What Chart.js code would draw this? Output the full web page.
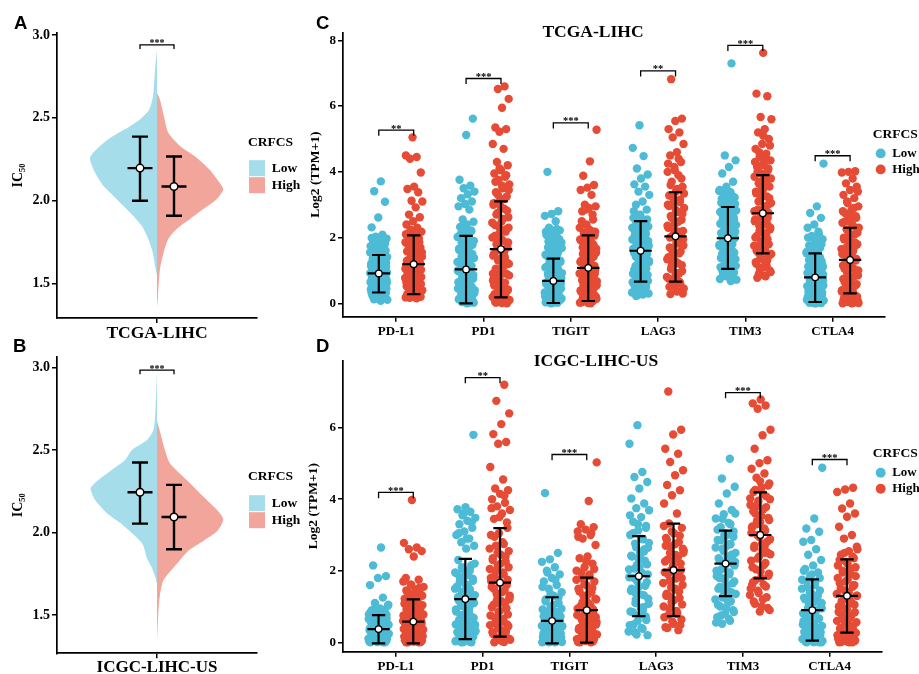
<!DOCTYPE html>
<html><head><meta charset="utf-8">
<script src="https://cdn.jsdelivr.net/npm/chart.js"></script>
<style>
html,body{margin:0;padding:0;background:#fff;width:919px;height:674px;overflow:hidden;}
canvas{position:absolute;}
.lbl{position:absolute;font:bold 18.5px "Liberation Sans",Arial,sans-serif;color:#000;z-index:5;line-height:normal;}
</style></head><body>
<canvas id="cA" width="300" height="345" style="left:0;top:0"></canvas>
<canvas id="cB" width="300" height="345" style="left:0;top:330px"></canvas>
<canvas id="cC" width="652" height="345" style="left:267px;top:0"></canvas>
<canvas id="cD" width="646" height="345" style="left:273px;top:330px"></canvas>
<div class="lbl" style="left:14px;top:12px">A</div>
<div class="lbl" style="left:13px;top:335px">B</div>
<div class="lbl" style="left:316px;top:12px">C</div>
<div class="lbl" style="left:316px;top:335px">D</div>
<script>
// ---------------- categories, labels, ticks ----------------
const genes = ['PD-L1', 'PD1', 'TIGIT', 'LAG3', 'TIM3', 'CTLA4'];
const groupLabels = ['Low', 'High'];
const legendTitle = 'CRFCS';
const icTicks = [1.5, 2.0, 2.5, 3.0];
const tcgaExprTicks = [0, 2, 4, 6, 8];
const icgcExprTicks = [0, 2, 4, 6];

// ---------------- panel A / B : violin outlines (IC50 level, half density width) ----------------
const aLowY  = [2.91,2.81,2.73,2.63,2.55,2.50,2.45,2.39,2.33,2.26,2.17,2.09,2.01,1.93,1.85,1.77,1.69,1.60,1.55];
const aLowW  = [0,0.017,0.027,0.04,0.077,0.153,0.27,0.44,0.57,0.67,0.62,0.537,0.403,0.27,0.153,0.087,0.043,0.017,0];
const aHighY = [2.65,2.61,2.50,2.41,2.33,2.26,2.19,2.12,2.07,2.01,1.95,1.89,1.83,1.77,1.69,1.60,1.50,1.40,1.36];
const aHighW = [0,0.03,0.073,0.113,0.23,0.397,0.523,0.613,0.663,0.597,0.463,0.33,0.197,0.113,0.067,0.033,0.017,0.007,0];
const bLowY  = [2.97,2.82,2.70,2.62,2.56,2.50,2.44,2.38,2.32,2.27,2.20,2.12,2.06,1.99,1.93,1.85,1.79,1.73,1.69];
const bLowW  = [0,0.01,0.02,0.037,0.103,0.253,0.32,0.453,0.587,0.663,0.62,0.503,0.37,0.237,0.143,0.103,0.053,0.017,0];
const bHighY = [2.68,2.62,2.50,2.42,2.32,2.22,2.14,2.08,2.01,1.95,1.89,1.81,1.71,1.61,1.51,1.41,1.35];
const bHighW = [0,0.027,0.08,0.13,0.297,0.463,0.597,0.663,0.603,0.463,0.313,0.197,0.063,0.027,0.013,0.005,0];
// mean and mean +/- SD  [Low, High]
const aMean = [2.197, 2.086], aLo = [2.00, 1.91], aHi = [2.387, 2.267];
const bMean = [2.245, 2.095], bLo = [2.055, 1.90], bHi = [2.425, 2.29];
const aSigY = 2.94, bSigY = 2.985, abSigLabel = '***';

// ---------------- panel C : TCGA-LIHC expression, Log2(TPM+1) ----------------
const tcgaLowPDL1 = [3.71,3.41,3.09,2.61,2.31,2.09,2.03,1.97,1.92,1.88,1.83,1.79,1.74,1.69,1.66,1.61,1.57,1.52,1.48,1.44,1.41,1.37,1.33,1.29,1.25,1.21,1.18,1.14,1.11,1.07,1.03,0.99,0.96,0.92,0.88,0.85,0.81,0.77,0.74,0.70,0.66,0.62,0.58,0.55,0.51,0.47,0.43,0.39,0.35,0.31,0.27,0.23,0.19,0.15,0.11,0.08,
  0.12,0.20,0.25,0.33,0.37,0.41,0.45,0.49,0.53,0.57,0.60,0.64,0.68,0.72,0.76,0.79,0.83,0.87,0.90,0.94,0.97,1.01,1.05,1.09,1.13,1.16,1.20,1.24,1.28,1.35,1.40,1.46,1.55,1.63,1.72,1.81,1.90,1.99,0.30,0.50,0.70,0.95,1.15];
const tcgaHighPDL1 = [5.05,4.50,4.45,4.40,3.98,3.55,3.48,3.38,3.12,3.10,2.92,2.70,2.62,2.50,2.40,2.30,2.24,2.18,2.12,2.05,1.98,1.92,1.86,1.80,1.74,1.69,1.63,1.58,1.52,1.47,1.42,1.37,1.32,1.27,1.22,1.17,1.12,1.07,1.02,0.97,0.92,0.87,0.82,0.77,0.72,0.67,0.62,0.57,0.52,0.47,0.42,0.38,0.34,0.30,0.26,0.22,0.18,0.15,
  0.17,0.20,0.24,0.28,0.32,0.36,0.40,0.45,0.50,0.55,0.60,0.65,0.70,0.75,0.80,0.85,0.90,0.95,1.00,1.05,1.10,1.15,1.20,1.25,1.30,1.35,1.45,1.55,1.65,1.75,1.85,1.95,2.10,2.20,0.33,0.58,0.88,1.18];
const tcgaLowPD1 = [5.62,5.12,3.76,3.58,3.50,3.40,3.32,3.20,3.10,3.02,2.95,2.85,2.55,2.48,2.40,2.32,2.22,2.12,2.02,1.94,1.86,1.78,1.70,1.62,1.54,1.46,1.38,1.30,1.22,1.14,1.06,0.98,0.90,0.82,0.75,0.68,0.61,0.54,0.47,0.40,0.34,0.28,0.22,0.17,0.12,0.08,0.05,0.02,0.00,0.10,0.30,0.60,1.00,
  0.01,0.04,0.07,0.11,0.15,0.20,0.25,0.31,0.37,0.43,0.50,0.57,0.64,0.71,0.78,0.86,0.94,1.02,1.10,1.18,1.26,1.34,1.42,1.50,1.58,1.66,1.74,1.82,1.90,2.00,2.10,2.20,2.30,0.45,0.85,1.30];
const tcgaHighPD1 = [6.60,6.52,6.22,5.95,5.35,5.30,5.22,4.85,4.70,4.30,4.20,4.05,3.95,3.85,3.75,3.62,3.50,3.38,3.25,3.12,3.00,2.88,2.75,2.62,2.50,2.38,2.25,2.12,2.00,1.90,1.80,1.70,1.60,1.50,1.40,1.30,1.20,1.10,1.00,0.90,0.80,0.70,0.60,0.50,0.42,0.35,0.28,0.22,0.16,0.10,0.05,0.02,0.00,0.30,0.65,1.15,1.75,2.30,
  0.01,0.04,0.08,0.13,0.19,0.25,0.32,0.39,0.46,0.55,0.63,0.72,0.85,0.95,1.05,1.25,1.35,1.45,1.55,1.65,1.85,1.95,2.05,2.18,2.32,2.45,2.57,2.70,2.82,2.95,3.05,3.18,3.30,3.45,3.58,3.70,3.90,4.10,0.90,1.40,2.00];
const tcgaLowTIGIT = [4.00,2.80,2.72,2.66,2.50,2.30,2.22,2.15,2.08,2.00,1.92,1.85,1.78,1.70,1.62,1.55,1.48,1.40,1.33,1.26,1.19,1.12,1.05,0.98,0.92,0.86,0.80,0.74,0.68,0.62,0.56,0.50,0.45,0.40,0.35,0.30,0.25,0.21,0.17,0.13,0.10,0.07,0.04,0.02,0.00,0.15,0.35,0.55,0.75,
  0.01,0.03,0.06,0.09,0.12,0.16,0.20,0.23,0.28,0.33,0.38,0.43,0.48,0.53,0.59,0.65,0.71,0.77,0.83,0.89,0.95,1.02,1.09,1.16,1.23,1.30,1.37,1.45,1.52,1.60,1.68,1.75,1.88,1.95,2.05,2.18,2.26,0.45,0.60,0.90];
const tcgaHighTIGIT = [5.28,4.32,3.88,3.60,3.52,3.45,3.30,3.00,2.95,2.90,2.80,2.55,2.40,2.30,2.22,2.14,2.06,1.98,1.90,1.82,1.74,1.66,1.58,1.50,1.42,1.34,1.26,1.18,1.10,1.02,0.95,0.88,0.81,0.74,0.67,0.60,0.54,0.48,0.42,0.36,0.30,0.25,0.20,0.16,0.12,0.08,0.05,0.02,0.00,0.40,0.90,
  0.01,0.03,0.06,0.10,0.14,0.18,0.22,0.27,0.33,0.39,0.45,0.51,0.57,0.63,0.70,0.77,0.84,0.91,0.98,1.06,1.14,1.22,1.30,1.38,1.46,1.54,1.62,1.70,1.78,1.86,1.94,2.02,2.10,2.18,2.26,2.50,2.70,2.85,0.55,1.25];
const tcgaLowLAG3 = [5.42,4.73,4.48,4.10,3.92,3.80,3.62,3.55,3.40,3.30,3.10,3.00,2.85,2.70,2.60,2.50,2.42,2.34,2.26,2.18,2.10,2.02,1.94,1.86,1.78,1.70,1.62,1.54,1.46,1.38,1.30,1.22,1.14,1.06,0.98,0.90,0.82,0.75,0.68,0.61,0.54,0.47,0.40,0.33,0.27,0.22,1.50,1.90,2.30,1.10,
  0.25,0.30,0.36,0.43,0.50,0.57,0.64,0.71,0.78,0.86,0.94,1.02,1.10,1.18,1.26,1.34,1.42,1.50,1.58,1.66,1.74,1.82,1.90,1.98,2.06,2.14,2.22,2.30,2.38,2.46,2.55,2.65,2.80,0.95,1.35,1.75,2.15];
const tcgaHighLAG3 = [6.82,5.62,5.55,5.30,5.20,5.05,4.85,4.60,4.50,4.30,4.15,4.00,3.90,3.70,3.55,3.40,3.28,3.15,3.02,2.90,2.78,2.66,2.54,2.42,2.30,2.18,2.06,1.94,1.82,1.70,1.58,1.46,1.34,1.22,1.10,0.98,0.86,0.75,0.65,0.55,0.45,0.36,0.28,1.80,2.50,3.00,4.40,1.20,
  0.30,0.40,0.50,0.60,0.70,0.80,0.92,1.04,1.16,1.28,1.40,1.52,1.64,1.76,1.88,2.00,2.12,2.24,2.36,2.48,2.60,2.72,2.84,2.96,3.08,3.20,3.34,3.48,3.60,3.80,4.05,4.25,0.90,1.60,2.20,2.80];
const tcgaLowTIM3 = [7.30,4.50,4.35,4.15,3.95,3.70,3.55,3.45,3.38,3.30,3.22,3.14,3.06,2.98,2.90,2.82,2.74,2.66,2.58,2.50,2.42,2.34,2.26,2.18,2.10,2.02,1.94,1.86,1.78,1.70,1.62,1.54,1.46,1.38,1.30,1.22,1.14,1.06,0.98,0.90,0.82,0.74,0.68,1.50,2.00,2.40,2.80,1.80,2.20,
  0.72,0.78,0.86,0.94,1.02,1.10,1.18,1.26,1.34,1.42,1.50,1.58,1.66,1.74,1.82,1.90,1.98,2.06,2.14,2.22,2.30,2.38,2.46,2.54,2.62,2.70,2.78,2.86,2.94,3.02,3.10,3.18,3.26,3.34,3.42,1.30,1.90,2.50];
const tcgaHighTIM3 = [7.62,6.38,6.30,5.67,5.60,5.30,5.20,5.00,4.85,4.70,4.55,4.45,4.35,4.25,4.15,4.05,3.95,3.85,3.75,3.65,3.55,3.45,3.35,3.25,3.15,3.05,2.95,2.85,2.75,2.65,2.55,2.45,2.35,2.25,2.15,2.05,1.95,1.85,1.75,1.65,1.55,1.45,1.35,1.25,1.15,1.05,0.95,0.85,0.78,3.00,3.50,2.50,
  0.82,0.90,1.00,1.10,1.20,1.30,1.40,1.50,1.60,1.70,1.80,1.90,2.00,2.10,2.20,2.30,2.40,2.50,2.60,2.70,2.80,2.90,3.10,3.20,3.30,3.40,3.60,3.70,3.80,3.90,4.00,4.10,4.20,4.30,4.40,4.60,4.80,5.10,1.60,2.40,3.30];
const tcgaLowCTLA4 = [4.25,2.95,2.75,2.60,2.40,2.30,2.18,2.05,1.95,1.85,1.76,1.68,1.60,1.52,1.44,1.36,1.28,1.20,1.12,1.04,0.96,0.88,0.80,0.73,0.66,0.59,0.52,0.45,0.39,0.33,0.27,0.22,0.17,0.13,0.09,0.06,0.03,0.01,0.00,0.20,0.50,0.80,1.10,
  0.00,0.02,0.05,0.08,0.11,0.15,0.19,0.24,0.29,0.35,0.41,0.47,0.54,0.61,0.68,0.76,0.84,0.92,1.00,1.08,1.16,1.24,1.32,1.40,1.48,1.56,1.64,1.72,1.80,1.90,2.00,2.10,0.38,0.70,1.00];
const tcgaHighCTLA4 = [4.02,4.00,3.98,3.80,3.65,3.55,3.45,3.30,3.20,3.05,2.95,2.85,2.75,2.65,2.55,2.45,2.35,2.25,2.15,2.05,1.95,1.85,1.75,1.65,1.55,1.45,1.35,1.25,1.15,1.05,0.95,0.85,0.75,0.65,0.55,0.47,0.40,0.33,0.27,0.21,0.16,0.11,0.07,0.04,0.01,0.00,0.30,0.90,1.50,
  0.00,0.02,0.05,0.09,0.13,0.18,0.24,0.30,0.36,0.43,0.50,0.58,0.66,0.74,0.82,0.90,1.00,1.10,1.20,1.30,1.40,1.50,1.60,1.70,1.80,1.90,2.00,2.10,2.20,2.30,2.40,2.50,2.60,2.70,2.80,2.90,3.10,3.40,0.45,1.05,1.75];
const tcgaLowMean  = [0.91, 1.03, 0.68, 1.60, 1.98, 0.79];
const tcgaLowSdLo  = [0.33, 0.00, 0.01, 0.66, 1.05, 0.04];
const tcgaLowSdHi  = [1.47, 2.05, 1.36, 2.50, 2.93, 1.52];
const tcgaHighMean = [1.19, 1.65, 1.08, 2.04, 2.74, 1.32];
const tcgaHighSdLo = [0.28, 0.18, 0.07, 0.66, 1.52, 0.30];
const tcgaHighSdHi = [2.07, 3.10, 2.07, 3.38, 3.90, 2.30];
const tcgaSigY     = [5.27, 6.84, 5.49, 7.07, 7.85, 4.49];
const tcgaSigLabel = ['**', '***', '***', '**', '***', '***'];

// ---------------- panel D : ICGC-LIHC-US expression ----------------
const icgcLowPDL1 = [2.65,2.15,1.85,1.80,1.60,1.25,1.10,1.02,0.95,0.90,0.86,0.82,0.78,0.74,0.70,0.66,0.62,0.58,0.55,0.52,0.49,0.46,0.43,0.40,0.37,0.34,0.31,0.28,0.25,0.22,0.19,0.16,0.13,0.10,0.08,0.06,0.04,0.02,0.00,0.00,0.30,0.50,0.20,0.15,
  0.00,0.01,0.03,0.05,0.07,0.09,0.11,0.14,0.17,0.21,0.24,0.27,0.30,0.33,0.36,0.39,0.42,0.45,0.48,0.51,0.54,0.57,0.61,0.65,0.69,0.73,0.77,0.81,0.85,0.90,0.98,1.05,0.12,0.26,0.44,0.60];
const icgcHighPDL1 = [3.98,2.78,2.65,2.60,2.55,2.40,1.80,1.75,1.62,1.55,1.48,1.40,1.34,1.28,1.22,1.16,1.10,1.04,0.98,0.92,0.86,0.80,0.75,0.70,0.65,0.60,0.55,0.50,0.45,0.40,0.36,0.32,0.28,0.24,0.20,0.16,0.12,0.08,0.05,0.02,0.00,0.00,0.30,0.60,0.10,
  0.00,0.01,0.03,0.06,0.09,0.13,0.17,0.21,0.25,0.29,0.33,0.37,0.42,0.47,0.52,0.57,0.62,0.67,0.72,0.78,0.84,0.90,0.96,1.02,1.08,1.14,1.20,1.30,1.38,1.45,1.52,1.60,1.70,0.15,0.35,0.55];
const icgcLowPD1 = [5.80,3.78,3.72,3.65,3.55,3.48,3.40,3.30,3.20,3.10,3.00,2.90,2.80,2.70,2.62,2.30,2.15,2.05,1.95,1.88,1.80,1.72,1.64,1.56,1.48,1.40,1.32,1.24,1.16,1.08,1.00,0.92,0.84,0.76,0.68,0.60,0.52,0.45,0.38,0.31,0.25,0.19,0.14,0.09,0.05,0.02,0.00,0.40,0.80,1.20,
  0.00,0.01,0.03,0.07,0.11,0.16,0.22,0.28,0.35,0.42,0.49,0.56,0.63,0.70,0.78,0.86,0.94,1.02,1.10,1.18,1.26,1.34,1.42,1.50,1.60,1.70,1.78,1.86,1.92,2.00,2.10,2.20,2.90,3.05,3.35,3.60,0.50,0.90];
const icgcHighPD1 = [7.20,6.75,6.40,6.10,5.82,5.60,5.55,4.90,4.55,4.30,4.25,4.15,4.00,3.90,3.80,3.70,3.60,3.45,3.35,3.05,3.00,2.75,2.70,2.55,2.45,2.35,2.25,2.15,2.05,1.95,1.85,1.75,1.65,1.55,1.45,1.35,1.25,1.15,1.05,0.95,0.85,0.75,0.65,0.55,0.45,0.36,0.28,0.20,0.13,0.07,0.03,0.00,0.50,1.10,1.70,
  0.01,0.05,0.10,0.16,0.23,0.30,0.40,0.48,0.58,0.68,0.78,0.88,0.98,1.08,1.18,1.30,1.40,1.50,1.60,1.72,1.80,1.90,2.00,2.10,2.20,2.30,2.40,2.50,2.62,2.80,2.95,3.20,3.50,3.75,4.10,0.60,1.20];
const icgcLowTIGIT = [4.17,2.50,2.32,2.25,2.10,2.00,1.90,1.80,1.70,1.60,1.50,1.40,1.30,1.20,1.10,1.00,0.92,0.85,0.78,0.72,0.66,0.60,0.55,0.50,0.45,0.40,0.36,0.32,0.28,0.24,0.20,0.16,0.13,0.10,0.07,0.04,0.02,0.00,0.00,0.30,0.60,0.20,0.50,0.80,
  0.00,0.01,0.03,0.05,0.08,0.11,0.14,0.17,0.21,0.25,0.29,0.33,0.37,0.41,0.46,0.51,0.56,0.61,0.67,0.73,0.79,0.86,0.94,1.05,1.15,1.25,1.35,1.55,1.75,1.95,0.12,0.35,0.48,0.70];
const icgcHighTIGIT = [5.03,3.95,3.30,3.22,3.15,3.10,3.00,2.90,2.72,2.40,2.35,2.20,2.10,2.00,1.90,1.80,1.70,1.60,1.50,1.40,1.30,1.20,1.10,1.00,0.92,0.84,0.76,0.68,0.60,0.53,0.46,0.40,0.34,0.28,0.22,0.17,0.12,0.08,0.04,0.01,0.00,0.30,0.70,1.05,
  0.00,0.02,0.05,0.09,0.13,0.18,0.23,0.29,0.35,0.42,0.49,0.56,0.63,0.70,0.78,0.86,0.94,1.02,1.12,1.22,1.32,1.42,1.52,1.62,1.75,1.85,1.95,2.05,2.25,2.95,3.05,0.25,0.50,0.80];
const icgcLowLAG3 = [6.07,5.55,4.76,4.62,4.48,4.30,4.02,3.88,3.75,3.69,3.50,3.37,3.25,3.13,3.00,2.88,2.76,2.64,2.52,2.40,2.28,2.16,2.04,1.92,1.80,1.68,1.56,1.44,1.32,1.20,1.08,0.96,0.84,0.72,0.60,0.48,0.38,0.28,0.20,2.10,1.50,2.60,
  0.22,0.30,0.40,0.50,0.62,0.74,0.86,0.98,1.10,1.22,1.34,1.46,1.58,1.70,1.82,1.94,2.06,2.18,2.30,2.42,2.54,2.66,2.78,2.90,3.05,3.20,3.30,3.55,0.90,1.40,1.90,2.40];
const icgcHighLAG3 = [7.01,5.94,5.81,5.41,5.27,5.04,4.81,4.67,4.40,4.25,4.11,3.88,3.60,3.32,3.20,3.05,2.92,2.80,2.68,2.56,2.44,2.32,2.20,2.08,1.96,1.84,1.72,1.60,1.48,1.36,1.24,1.12,1.00,0.88,0.76,0.64,0.52,0.42,0.34,2.00,2.50,1.50,
  0.40,0.48,0.58,0.70,0.82,0.94,1.06,1.18,1.30,1.42,1.54,1.66,1.78,1.90,2.02,2.14,2.26,2.38,2.50,2.62,2.74,2.86,2.98,3.10,3.25,0.80,1.30,1.80,2.30,2.70];
const icgcLowTIM3 = [5.13,4.58,4.35,4.16,3.88,3.70,3.58,3.46,3.34,3.22,3.10,2.98,2.86,2.74,2.62,2.50,2.40,2.30,2.20,2.10,2.00,1.90,1.80,1.70,1.60,1.50,1.40,1.30,1.20,1.10,1.00,0.90,0.80,0.70,0.60,0.52,2.25,2.70,1.85,3.00,1.45,
  0.55,0.65,0.75,0.85,0.95,1.05,1.15,1.25,1.35,1.45,1.55,1.65,1.75,1.85,1.95,2.05,2.15,2.25,2.35,2.45,2.55,2.65,2.75,2.85,2.95,3.05,3.15,3.30,3.45,3.60,1.20,1.80,2.40,3.00];
const icgcHighTIM3 = [6.79,6.68,6.62,6.53,5.94,5.79,5.41,5.09,5.01,4.85,4.72,4.60,4.44,4.32,4.20,4.08,3.96,3.84,3.72,3.60,3.48,3.36,3.24,3.12,3.00,2.88,2.76,2.64,2.52,2.40,2.28,2.16,2.04,1.92,1.80,1.68,1.56,1.44,1.32,1.20,1.08,0.96,0.86,3.20,2.70,3.80,
  0.90,1.00,1.14,1.26,1.38,1.50,1.62,1.74,1.86,1.98,2.10,2.22,2.34,2.46,2.58,2.70,2.82,2.94,3.06,3.18,3.30,3.42,3.54,3.66,3.78,3.90,4.02,4.14,4.26,4.38,4.50,1.60,2.50,3.40,4.00];
const icgcLowCTLA4 = [4.88,3.46,3.18,3.09,2.86,2.81,2.60,2.45,2.30,2.15,2.05,1.95,1.85,1.75,1.65,1.55,1.45,1.35,1.25,1.15,1.05,0.95,0.85,0.75,0.66,0.58,0.50,0.42,0.35,0.28,0.22,0.16,0.11,0.07,0.04,0.01,0.00,0.00,0.30,0.60,0.90,1.20,
  0.00,0.01,0.02,0.04,0.06,0.09,0.12,0.15,0.19,0.24,0.29,0.34,0.40,0.46,0.53,0.60,0.67,0.74,0.81,0.88,0.96,1.04,1.12,1.20,1.30,1.40,1.50,1.60,1.70,1.80,1.90,2.00,0.33,0.70,1.10];
const icgcHighCTLA4 = [4.32,4.27,4.20,3.88,3.74,3.60,3.51,3.23,3.00,2.90,2.67,2.55,2.45,2.35,2.25,2.15,2.05,1.95,1.85,1.75,1.65,1.55,1.45,1.35,1.25,1.15,1.05,0.95,0.85,0.75,0.65,0.56,0.48,0.40,0.33,0.26,0.20,0.14,0.09,0.05,0.02,0.00,0.00,0.60,1.30,
  0.00,0.01,0.03,0.06,0.10,0.15,0.20,0.26,0.32,0.38,0.45,0.52,0.60,0.68,0.76,0.84,0.92,1.00,1.10,1.20,1.30,1.40,1.50,1.60,1.70,1.80,1.90,2.00,2.10,2.20,2.30,2.40,2.50,2.60,0.40,1.00,1.60];
const icgcLowMean  = [0.37, 1.21, 0.60, 1.85, 2.20, 0.90];
const icgcLowSdLo  = [-0.03, 0.09, -0.03, 0.73, 1.29, 0.05];
const icgcLowSdHi  = [0.76, 2.33, 1.26, 2.97, 3.12, 1.76];
const icgcHighMean = [0.58, 1.67, 0.90, 2.02, 3.00, 1.30];
const icgcHighSdLo = [-0.03, 0.16, -0.01, 0.73, 1.79, 0.27];
const icgcHighSdHi = [1.20, 3.19, 1.81, 3.32, 4.19, 2.32];
const icgcSigY     = [4.19, 7.40, 5.25, null, 6.98, 5.11];
const icgcSigLabel = ['***', '**', '***', '', '***', '***'];

// ---------------- styling ----------------
const FONT = '"Liberation Serif", "Times New Roman", serif';
Chart.defaults.font.family = FONT;
Chart.defaults.color = '#000';
const LOW_COL = '#4DBBD5', HIGH_COL = '#E64B35';
const LOW_VIO = '#A6DDEA', HIGH_VIO = '#F2A59A';

function errorPath(means, los, his, xs, capW, midW) {
  const pts = [];
  means.forEach((m, i) => {
    const x = xs[i];
    pts.push({x, y: los[i]}, {x, y: his[i]}, {x, y: null},
      {x: x - capW, y: his[i]}, {x: x + capW, y: his[i]}, {x, y: null},
      {x: x - capW, y: los[i]}, {x: x + capW, y: los[i]}, {x, y: null},
      {x: x - midW, y: m}, {x: x + midW, y: m}, {x, y: null});
  });
  return pts;
}
function legendPlacer(w, lx, ly) {
  return {
    id: 'legendPlacer',
    beforeInit(chart) {
      const lg = chart.legend;
      if (!lg) return;
      const orig = lg.fit;
      lg.fit = function () { orig.call(this); this.width = w; };
    },
    afterLayout(chart) {
      const lg = chart.legend;
      if (!lg) return;
      lg.left = lx; lg.right = lx + 120; lg.top = ly; lg.bottom = ly + 200;
    }
  };
}
function sigText(xs, ys, labels, size) {
  return {
    id: 'sigText',
    afterDatasetsDraw(chart) {
      const {ctx, scales} = chart;
      ctx.save();
      ctx.font = 'bold ' + size + 'px ' + FONT;
      ctx.fillStyle = '#000'; ctx.textAlign = 'center'; ctx.textBaseline = 'alphabetic';
      labels.forEach((t, i) => {
        if (!t || ys[i] == null) return;
        ctx.fillText(t, scales.x.getPixelForValue(xs[i]), scales.y.getPixelForValue(ys[i]) + 1.5);
      });
      ctx.restore();
    }
  };
}
function axisCommon() {
  return {
    grid: {display: true, drawOnChartArea: false, drawTicks: true, tickLength: 5, color: '#000', lineWidth: 1.5},
    border: {display: true, color: '#000', width: 1.7}
  };
}

// ---------------- violin panels ----------------
function violinChart(id, lowY, lowW, highY, highW, mean, lo, hi, sigY, xLabel, yMin, yMax, L) {
  const xs = [-0.17, 0.17];
  const lowOutline = lowY.map((y, i) => ({x: -lowW[i], y}));
  const highOutline = highY.map((y, i) => ({x: highW[i], y}));
  const tk = L.tick;
  new Chart(document.getElementById(id), {
    type: 'scatter',
    data: {datasets: [
      {data: xs.map((x, i) => ({x, y: mean[i]})), pointRadius: 3.8, pointBackgroundColor: '#fff', pointBorderColor: '#000', pointBorderWidth: 1.5, showLine: false},
      {data: errorPath(mean, lo, hi, xs, 0.08, 0.125), showLine: true, borderColor: '#000', borderWidth: 2.4, pointRadius: 0, tension: 0, spanGaps: false},
      {data: [{x: xs[0], y: sigY - tk}, {x: xs[0], y: sigY}, {x: xs[1], y: sigY}, {x: xs[1], y: sigY - tk}], showLine: true, borderColor: '#000', borderWidth: 1.3, pointRadius: 0, tension: 0},
      {label: groupLabels[0], data: lowOutline, showLine: true, fill: 'shape', backgroundColor: LOW_VIO, borderColor: 'rgba(0,0,0,0)', borderWidth: 0, pointRadius: 0, tension: 0.22},
      {label: groupLabels[1], data: highOutline, showLine: true, fill: 'shape', backgroundColor: HIGH_VIO, borderColor: 'rgba(0,0,0,0)', borderWidth: 0, pointRadius: 0, tension: 0.22}
    ]},
    options: {
      responsive: false, animation: false, events: [],
      layout: {padding: {left: 0, right: 0, top: L.top, bottom: 0}},
      scales: {
        x: Object.assign(axisCommon(), {
          type: 'linear', min: -1, max: 1,
          afterBuildTicks: (a) => { a.ticks = [{value: 0}]; },
          ticks: {callback: () => xLabel, font: {size: L.xFont, weight: 'bold'}, color: '#000', padding: L.xPad, maxRotation: 0},
          afterFit: (a) => { a.height = L.xH; a.paddingLeft = 0; a.paddingRight = 0; }
        }),
        y: Object.assign(axisCommon(), {
          type: 'linear', min: yMin, max: yMax,
          afterBuildTicks: (a) => { a.ticks = icTicks.map(v => ({value: v})); },
          ticks: {callback: (v) => Number(v).toFixed(1), font: {size: 14, weight: 'bold'}, color: '#000', padding: 2},
          title: {display: true, text: 'IC\u2085\u2080', font: {size: 14, weight: 'bold'}, color: '#000', padding: {top: 9.6, bottom: 0}},
          afterFit: (a) => { a.width = 57; a.paddingTop = 0; a.paddingBottom = 0; }
        })
      },
      plugins: {
        tooltip: {enabled: false},
        legend: {
          display: true, position: 'right', align: 'start',
          title: {display: true, text: legendTitle, position: 'start', color: '#000', font: {size: 13.5, weight: 'bold'}, padding: {top: 0, bottom: L.legTitlePad}},
          labels: {boxWidth: 16, boxHeight: 16, padding: 1, color: '#000', font: {size: 13.5, weight: 'bold'}, filter: (it) => groupLabels.includes(it.text)}
        }
      }
    },
    plugins: [legendPlacer(43, L.legX, L.legY), sigText([0], [sigY], [abSigLabel], 10)]
  });
}

violinChart('cA', aLowY, aLowW, aHighY, aHighW, aMean, aLo, aHi, aSigY, 'TCGA-LIHC', 1.293, 3.012,
  {top: 33, xH: 27, xPad: 0, xFont: 17.5, tick: 0.024, legX: 248, legY: 136, legTitlePad: 7});
violinChart('cB', bLowY, bLowW, bHighY, bHighW, bMean, bLo, bHi, bSigY, 'ICGC-LIHC-US', 1.269, 3.063,
  {top: 27.3, xH: 21.7, xPad: -1, xFont: 17, tick: 0.024, legX: 248, legY: 140, legTitlePad: 8});

// ---------------- expression panels ----------------
function jitter(i, g) { return ((((i + 1) * 0.6180339887) + g * 0.2718) % 1) * 2 - 1; }
function stripPoints(arrs, side, jw) {
  const pts = [];
  arrs.forEach((vals, gi) => {
    vals.forEach((v, i) => pts.push({x: gi + 1 + side * 0.2 + jw * jitter(i, gi + (side > 0 ? 3 : 0)), y: v}));
  });
  return pts;
}
function exprChart(id, lowArrs, highArrs, lowStats, highStats, sigY, sigLab, title, yTicks, yMin, yMax, L) {
  const xsLow = genes.map((g, i) => i + 1 - 0.2);
  const xsHigh = genes.map((g, i) => i + 1 + 0.2);
  const meanPts = xsLow.map((x, i) => ({x, y: lowStats[0][i]})).concat(xsHigh.map((x, i) => ({x, y: highStats[0][i]})));
  const errPts = errorPath(lowStats[0], lowStats[1], lowStats[2], xsLow, 0.077, 0.128)
    .concat(errorPath(highStats[0], highStats[1], highStats[2], xsHigh, 0.077, 0.128));
  const brPts = [];
  sigY.forEach((y, i) => {
    if (y == null) return;
    brPts.push({x: xsLow[i], y: y - L.tick}, {x: xsLow[i], y}, {x: xsHigh[i], y}, {x: xsHigh[i], y: y - L.tick}, {x: xsHigh[i], y: null});
  });
  new Chart(document.getElementById(id), {
    type: 'scatter',
    data: {datasets: [
      {data: meanPts, pointRadius: 3.3, pointBackgroundColor: '#fff', pointBorderColor: '#000', pointBorderWidth: 1.3, showLine: false},
      {data: errPts, showLine: true, borderColor: '#000', borderWidth: 2.2, pointRadius: 0, tension: 0, spanGaps: false},
      {data: brPts, showLine: true, borderColor: '#000', borderWidth: 1.3, pointRadius: 0, tension: 0, spanGaps: false},
      {label: groupLabels[0], data: stripPoints(lowArrs, -1, L.jw), backgroundColor: LOW_COL, pointBackgroundColor: LOW_COL, pointBorderWidth: 0, pointRadius: 4.2, showLine: false},
      {label: groupLabels[1], data: stripPoints(highArrs, 1, L.jw), backgroundColor: HIGH_COL, pointBackgroundColor: HIGH_COL, pointBorderWidth: 0, pointRadius: 4.2, showLine: false}
    ]},
    options: {
      responsive: false, animation: false, events: [],
      layout: {padding: {left: 0, right: 0, top: 0, bottom: 0}},
      scales: {
        x: Object.assign(axisCommon(), {
          type: 'linear', min: 0.39, max: 6.6,
          afterBuildTicks: (a) => { a.ticks = genes.map((g, i) => ({value: i + 1})); },
          ticks: {callback: (v) => genes[Math.round(v) - 1], font: {size: 13, weight: 'bold'}, color: '#000', padding: 2, maxRotation: 0, autoSkip: false},
          afterFit: (a) => { a.height = L.xH; a.paddingLeft = 0; a.paddingRight = 0; }
        }),
        y: Object.assign(axisCommon(), {
          type: 'linear', min: yMin, max: yMax,
          afterBuildTicks: (a) => { a.ticks = yTicks.map(v => ({value: v})); },
          ticks: {font: {size: 13, weight: 'bold'}, color: '#000', padding: 2},
          title: {display: true, text: 'Log2 (TPM+1)', font: {size: 13.5, weight: 'bold'}, color: '#000', padding: {top: L.yTitlePad, bottom: 0}},
          afterFit: (a) => { a.width = L.yW; a.paddingTop = 0; a.paddingBottom = 0; }
        })
      },
      plugins: {
        tooltip: {enabled: false},
        title: {display: true, text: title, color: '#000', font: {size: 17.5, weight: 'bold'}, padding: {top: L.tPadT, bottom: L.tPadB}},
        legend: {
          display: true, position: 'right', align: 'start',
          title: {display: true, text: legendTitle, position: 'start', color: '#000', font: {size: 13.5, weight: 'bold'}, padding: {top: 0, bottom: L.legTitlePad}},
          labels: {usePointStyle: true, boxWidth: 10, boxHeight: 7, padding: 3, color: '#000', font: {size: 13, weight: 'bold'}, filter: (it) => groupLabels.includes(it.text)}
        }
      }
    },
    plugins: [legendPlacer(L.legW, L.legX, L.legY), sigText(genes.map((g, i) => i + 1), sigY, sigLab, 10.5)]
  });
}

exprChart('cC',
  [tcgaLowPDL1, tcgaLowPD1, tcgaLowTIGIT, tcgaLowLAG3, tcgaLowTIM3, tcgaLowCTLA4],
  [tcgaHighPDL1, tcgaHighPD1, tcgaHighTIGIT, tcgaHighLAG3, tcgaHighTIM3, tcgaHighCTLA4],
  [tcgaLowMean, tcgaLowSdLo, tcgaLowSdHi], [tcgaHighMean, tcgaHighSdLo, tcgaHighSdHi],
  tcgaSigY, tcgaSigLabel, 'TCGA-LIHC', tcgaExprTicks, -0.407, 8.237,
  {tick: 0.17, jw: 0.1, xH: 28.3, yW: 76, yTitlePad: 40, tPadT: 21.8, tPadB: -10.2, legW: 34, legX: 605.7, legY: 127.7, legTitlePad: 0});

exprChart('cD',
  [icgcLowPDL1, icgcLowPD1, icgcLowTIGIT, icgcLowLAG3, icgcLowTIM3, icgcLowCTLA4],
  [icgcHighPDL1, icgcHighPD1, icgcHighTIGIT, icgcHighLAG3, icgcHighTIM3, icgcHighCTLA4],
  [icgcLowMean, icgcLowSdLo, icgcLowSdHi], [icgcHighMean, icgcHighSdLo, icgcHighSdHi],
  icgcSigY, icgcSigLabel, 'ICGC-LIHC-US', icgcExprTicks, -0.262, 7.875,
  {tick: 0.16, jw: 0.12, xH: 23.3, yW: 70, yTitlePad: 32, tPadT: 20.5, tPadB: -10.9, legW: 37.3, legX: 599.7, legY: 117, legTitlePad: 0});
</script>
</body></html>
